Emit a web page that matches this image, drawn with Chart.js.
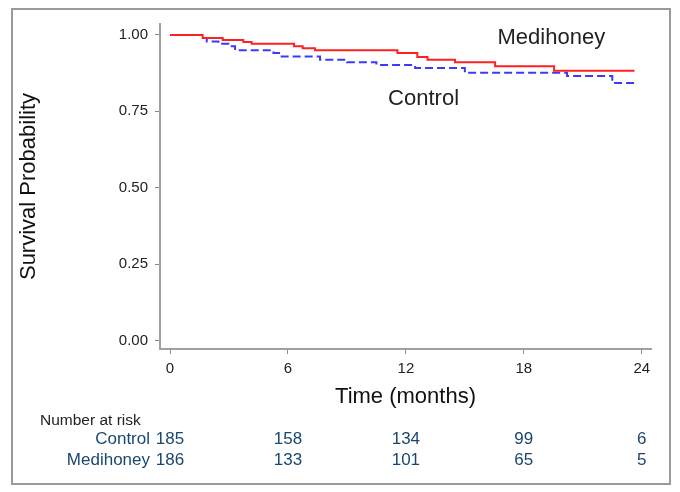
<!DOCTYPE html>
<html lang="en">
<head>
    <meta charset="UTF-8">
    <title>Survival Probability</title>
    <script src="https://cdn.jsdelivr.net/npm/chart.js"></script>
    <style>
        body { margin: 0; background: #fff; }
    </style>
</head>
<body>
    <canvas id="myChart" width="680" height="492"></canvas>
    <script>

        // setup block
        const medTimes = [0, 1.66, 2.68, 3.73, 4.15, 6.31, 6.75, 7.38, 11.57, 12.58, 13.1, 14.5, 16.54, 19.54, 23.63];
        const medSurv  = [1, 0.990, 0.984, 0.977, 0.971, 0.963, 0.957, 0.950, 0.941, 0.928, 0.919, 0.911, 0.898, 0.883, 0.883];

        const ctrlTimes = [0, 1.66, 1.87, 2.46, 2.97, 3.31, 5.26, 5.6, 7.63, 9.0, 10.5, 12.47, 15.0, 20.2, 22.5, 23.63];
        const ctrlSurv  = [1, 0.990, 0.979, 0.971, 0.963, 0.950, 0.941, 0.930, 0.919, 0.911, 0.902, 0.892, 0.876, 0.866, 0.843, 0.843];

        const xTicks = [0, 6, 12, 18, 24];
        const yTicks = [0, 0.25, 0.5, 0.75, 1];

        const riskGroups = ['Control', 'Medihoney'];
        const riskControl = [185, 158, 134, 99, 6];
        const riskMedihoney = [186, 133, 101, 65, 5];

        const toPoints = (xs, ys) => xs.map((x, i) => ({ x: x, y: ys[i] }));
        const FONT = '"Liberation Sans", Arial, sans-serif';

        const data = {
            datasets: [{
                label: 'Medihoney',
                data: toPoints(medTimes, medSurv),
                borderColor: '#ff2020',
                borderWidth: 2,
                stepped: 'before',
                pointRadius: 0
            }, {
                label: 'Control',
                data: toPoints(ctrlTimes, ctrlSurv),
                borderColor: '#3a3aff',
                borderWidth: 2,
                borderDash: [8, 4],
                stepped: 'before',
                pointRadius: 0
            }]
        };

        // frame, curve labels and number-at-risk table
        const extras = {
            id: 'extras',
            beforeDraw(chart) {
                const ctx = chart.ctx;
                ctx.save();
                ctx.fillStyle = '#fff';
                ctx.fillRect(0, 0, chart.width, chart.height);
                ctx.strokeStyle = '#9a9a9a';
                ctx.lineWidth = 2;
                ctx.strokeRect(12, 9, 658, 475);
                ctx.restore();
            },
            afterDraw(chart) {
                const ctx = chart.ctx;
                const x = chart.scales.x;
                const y = chart.scales.y;
                ctx.save();
                ctx.textBaseline = 'middle';

                ctx.fillStyle = '#222';
                ctx.font = '22px ' + FONT;
                ctx.textAlign = 'center';
                ctx.fillText('Medihoney', x.getPixelForValue(19.4), y.getPixelForValue(0.99));
                ctx.fillText('Control', x.getPixelForValue(12.9), y.getPixelForValue(0.79));

                ctx.textAlign = 'left';
                ctx.font = '15.5px ' + FONT;
                ctx.fillText('Number at risk', 40, 421);

                ctx.fillStyle = '#1a476f';
                ctx.font = '17px ' + FONT;
                const rows = [riskControl, riskMedihoney];
                const rowY = [439, 460];
                rows.forEach((row, r) => {
                    ctx.textAlign = 'right';
                    ctx.fillText(riskGroups[r], 150, rowY[r]);
                    ctx.textAlign = 'center';
                    row.forEach((n, i) => {
                        ctx.fillText(String(n), x.getPixelForValue(xTicks[i]), rowY[r]);
                    });
                });
                ctx.restore();
            }
        };

        //config block
        const config = {
            type: 'line',
            data,
            options: {
                responsive: false,
                animation: false,
                layout: { padding: { left: 14, top: 24, right: 29, bottom: 82 } },
                plugins: {
                    legend: { display: false },
                    tooltip: { enabled: false }
                },
                scales: {
                    x: {
                        type: 'linear',
                        min: -0.51,
                        max: 24.47,
                        afterBuildTicks: s => { s.ticks = xTicks.map(v => ({ value: v })); },
                        afterFit: s => { s.height = 61; },
                        grid: { drawOnChartArea: false, drawTicks: true, tickLength: 5, color: '#8a8a8a' },
                        border: { color: '#a0a0a0', width: 2 },
                        ticks: {
                            maxRotation: 0,
                            padding: 6,
                            color: '#222',
                            font: { family: FONT, size: 15 }
                        },
                        title: {
                            display: true,
                            text: 'Time (months)',
                            color: '#111',
                            padding: 0,
                            font: { family: FONT, size: 22 }
                        }
                    },
                    y: {
                        min: -0.028,
                        max: 1.036,
                        afterBuildTicks: s => { s.ticks = yTicks.map(v => ({ value: v })); },
                        afterFit: s => { s.width = 146; },
                        grid: { drawOnChartArea: false, drawTicks: true, tickLength: 5, color: '#8a8a8a' },
                        border: { color: '#a0a0a0', width: 2 },
                        ticks: {
                            padding: 7,
                            color: '#222',
                            font: { family: FONT, size: 15 },
                            callback: v => Number(v).toFixed(2)
                        },
                        title: {
                            display: true,
                            text: 'Survival Probability',
                            color: '#111',
                            padding: { top: 2, bottom: 0 },
                            font: { family: FONT, size: 22 }
                        }
                    }
                }
            },
            plugins: [extras]
        };

        // render block
        const myChart = new Chart(document.getElementById('myChart'), config);

    </script>
</body>
</html>
